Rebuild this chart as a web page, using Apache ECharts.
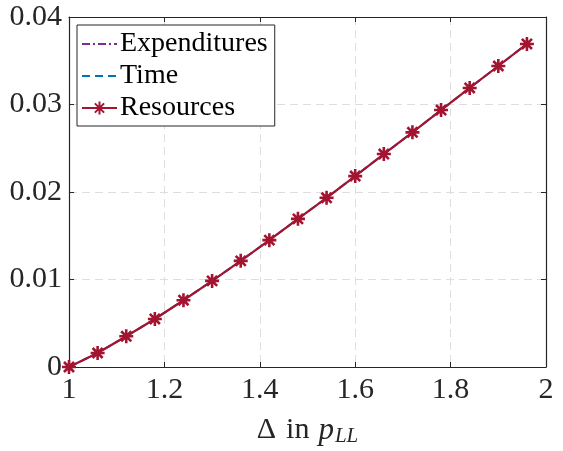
<!DOCTYPE html>
<html>
<head>
<meta charset="utf-8">
<script src="https://cdn.jsdelivr.net/npm/echarts@6/dist/echarts.min.js"></script>
<style>
  html, body { margin: 0; padding: 0; background: #fff; }
  #chart { width: 563px; height: 451px; }
</style>
</head>
<body>
<div id="chart"></div>
<script>
// Relative change in p_LL (x) and the resulting welfare measures (y)
const pLL = [1.00, 1.06, 1.12, 1.18, 1.24, 1.30, 1.36, 1.42, 1.48, 1.54, 1.60, 1.66, 1.72, 1.78, 1.84, 1.90, 1.96];
const expenditures = [0, 0.0016, 0.00351, 0.00549, 0.00763, 0.00984, 0.01213, 0.0145, 0.01693, 0.01934, 0.02182, 0.02434, 0.02682, 0.02937, 0.03189, 0.0344, 0.03692];
const time         = [0, 0.0016, 0.00351, 0.00549, 0.00763, 0.00984, 0.01213, 0.0145, 0.01693, 0.01934, 0.02182, 0.02434, 0.02682, 0.02937, 0.03189, 0.0344, 0.03692];
const resources    = [0, 0.0016, 0.00351, 0.00549, 0.00763, 0.00984, 0.01213, 0.0145, 0.01693, 0.01934, 0.02182, 0.02434, 0.02682, 0.02937, 0.03189, 0.0344, 0.03692];
const seriesNames = ['Expenditures', 'Time', 'Resources'];
const xTicks = [1, 1.2, 1.4, 1.6, 1.8, 2];
const yTicks = [0, 0.01, 0.02, 0.03, 0.04];

const pairs = ys => pLL.map((x, i) => [x, ys[i]]);

const FONT = '"Liberation Serif", "DejaVu Serif", serif';
const AXIS = '#262626';
const GRID = '#dedede';
const asterisk = 'path://M0,-1L0,1M-1,0L1,0M-0.72,-0.72L0.72,0.72M-0.72,0.72L0.72,-0.72';

const chart = echarts.init(document.getElementById('chart'), null, { renderer: 'canvas' });

const baseAxis = {
  axisLine: { show: true, onZero: false, lineStyle: { color: AXIS, width: 1.2 } },
  axisTick: { show: true, inside: true, length: 5, lineStyle: { color: AXIS, width: 1 } },
  splitLine: { show: false },
  axisLabel: { show: false }
};

chart.setOption({
  animation: false,
  backgroundColor: '#ffffff',
  grid: { left: 69, right: 17, top: 17, bottom: 84, containLabel: false, outerBoundsMode: 'none' },
  xAxis: [
    Object.assign({}, baseAxis, {
      type: 'value', min: xTicks[0], max: xTicks[xTicks.length - 1], interval: 0.2,
      position: 'bottom',
      axisLabel: {
        show: true, margin: 8, color: AXIS, fontFamily: FONT, fontSize: 30,
        formatter: v => String(+v.toFixed(1))
      },
      splitLine: { show: true, lineStyle: { color: GRID, width: 1, type: [8, 5] } },
      name: '{d|Δ}{g|in}{p|p}{s|LL}',
      nameLocation: 'middle',
      nameGap: 47,
      nameTextStyle: {
        color: AXIS, fontFamily: FONT, fontSize: 30,
        rich: {
          d: { fontFamily: FONT, fontSize: 30, color: AXIS, padding: [0, 10, 0, 0] },
          g: { fontFamily: FONT, fontSize: 30, color: AXIS, padding: [0, 9, 0, 0] },
          p: { fontFamily: FONT, fontSize: 31, fontStyle: 'italic', color: AXIS },
          s: { fontFamily: FONT, fontSize: 21, fontStyle: 'italic', color: AXIS, verticalAlign: 'bottom', padding: [12, 0, 0, 1] }
        }
      }
    }),
    Object.assign({}, baseAxis, {
      type: 'value', min: xTicks[0], max: xTicks[xTicks.length - 1], interval: 0.2,
      position: 'top'
    })
  ],
  yAxis: [
    Object.assign({}, baseAxis, {
      type: 'value', min: yTicks[0], max: yTicks[yTicks.length - 1], interval: 0.01,
      position: 'left',
      axisLabel: {
        show: true, margin: 7, color: AXIS, fontFamily: FONT, fontSize: 30,
        formatter: v => String(+v.toFixed(2))
      },
      splitLine: { show: true, lineStyle: { color: GRID, width: 1, type: [8, 5] } }
    }),
    Object.assign({}, baseAxis, {
      type: 'value', min: yTicks[0], max: yTicks[yTicks.length - 1], interval: 0.01,
      position: 'right'
    })
  ],
  legend: {
    orient: 'vertical',
    left: 77, top: 25,
    padding: [5, 7, 4, 4],
    itemWidth: 35, itemHeight: 16, itemGap: 4,
    backgroundColor: '#ffffff',
    borderColor: AXIS, borderWidth: 1, borderRadius: 0,
    textStyle: { fontFamily: FONT, fontSize: 28, color: '#000000', lineHeight: 28, padding: [0, 0, 0, -2] },
    data: [
      { name: seriesNames[0], itemStyle: { opacity: 0 } },
      { name: seriesNames[1], itemStyle: { opacity: 0 } },
      { name: seriesNames[2] }
    ],
    z: 10
  },
  series: [
    {
      name: seriesNames[0], type: 'line', data: pairs(expenditures),
      symbol: 'none', showSymbol: false,
      lineStyle: { color: '#7E2F8E', width: 1.5, type: [8, 3, 2, 3] },
      itemStyle: { color: '#7E2F8E' }, z: 2
    },
    {
      name: seriesNames[1], type: 'line', data: pairs(time),
      symbol: 'none', showSymbol: false,
      lineStyle: { color: '#0072BD', width: 2, type: [8, 5] },
      itemStyle: { color: '#0072BD' }, z: 3
    },
    {
      name: seriesNames[2], type: 'line', data: pairs(resources),
      symbol: asterisk, symbolSize: 14, showSymbol: true,
      lineStyle: { color: '#A2142F', width: 2.2 },
      itemStyle: { color: '#A2142F', borderColor: '#A2142F', borderWidth: 2.6 },
      z: 4
    }
  ]
});
</script>
</body>
</html>
